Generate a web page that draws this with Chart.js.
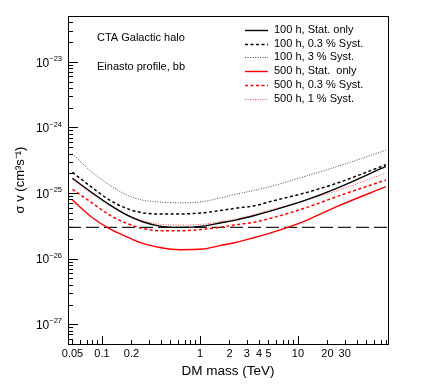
<!DOCTYPE html>
<html>
<head>
<meta charset="utf-8">
<script src="https://cdn.jsdelivr.net/npm/chart.js@4.4.1/dist/chart.umd.min.js"></script>
<style>
  html, body { margin: 0; padding: 0; background: #fff; }
  #c { display: block; }
</style>
</head>
<body>
<canvas id="c" width="424" height="385"></canvas>
<script>
// DM mass (TeV) sample points
const masses = [0.05, 0.08, 0.12, 0.18, 0.26, 0.39, 0.62, 1.07, 1.6, 2.37, 3.6, 5.18, 11.4, 24.8, 79];

// sigma v upper limits (cm^3 s^-1)
const stat100 = [1.68e-25, 1.0e-25, 6.6e-26, 4.6e-26, 3.65e-26, 3.13e-26, 3.0e-26, 3.13e-26, 3.5e-26, 3.9e-26, 4.55e-26, 5.3e-26, 7.6e-26, 1.18e-25, 2.55e-25];
const syst03_100 = [2.07e-25, 1.2e-25, 7.8e-26, 5.8e-26, 5.0e-26, 4.8e-26, 4.8e-26, 5.0e-26, 5.4e-26, 5.9e-26, 6.4e-26, 7.4e-26, 9.9e-26, 1.41e-25, 2.7e-25];
const syst3_100 = [3.94e-25, 2.05e-25, 1.32e-25, 9.3e-26, 7.8e-26, 7.3e-26, 7.1e-26, 7.4e-26, 8.4e-26, 9.65e-26, 1.1e-25, 1.25e-25, 1.77e-25, 2.52e-25, 4.5e-25];
const stat500 = [7.8e-26, 4.2e-26, 2.85e-26, 2.15e-26, 1.71e-26, 1.48e-26, 1.37e-26, 1.4e-26, 1.58e-26, 1.78e-26, 2.1e-26, 2.45e-26, 3.67e-26, 6.2e-26, 1.25e-25];
const syst03_500 = [1.14e-25, 7.0e-26, 4.6e-26, 3.44e-26, 2.89e-26, 2.66e-26, 2.66e-26, 2.8e-26, 3.0e-26, 3.3e-26, 3.6e-26, 4.1e-26, 5.8e-26, 8.8e-26, 1.58e-25];
const syst1_500 = [1.62e-25, 9.6e-26, 6.5e-26, 4.7e-26, 3.8e-26, 3.35e-26, 3.25e-26, 3.35e-26, 3.65e-26, 4.05e-26, 4.7e-26, 5.5e-26, 7.6e-26, 1.08e-25, 2.02e-25];

// thermal relic cross section
const relicMass = [0.045, 83];
const relicValue = [3e-26, 3e-26];

const seriesLabels = ["100 h, Stat. only", "100 h, 0.3 % Syst.", "100 h, 3 % Syst.",
  "500 h, Stat.  only", "500 h, 0.3 % Syst.", "500 h, 1 % Syst."];

const xTickValues = [0.05, 0.1, 0.2, 1, 2, 3, 4, 5, 10, 20, 30];
const yTickValues = [1e-27, 1e-26, 1e-25, 1e-24, 1e-23];
const yTickExponents = ["\u221227", "\u221226", "\u221225", "\u221224", "\u221223"];

const FONT = "'Liberation Sans', Arial, Helvetica, sans-serif";

const pts = (xs, ys) => xs.map((x, i) => ({ x: x, y: ys[i] }));

const line = (label, values, color, dash, width) => ({
  label: label,
  data: pts(masses, values),
  borderColor: color,
  borderDash: dash,
  borderWidth: width,
  pointRadius: 0,
  fill: false,
  cubicInterpolationMode: "monotone",
});

const datasets = [
  line(seriesLabels[0], stat100, "#000000", [], 1.4),
  line(seriesLabels[1], syst03_100, "#000000", [3, 2.5], 1.5),
  line(seriesLabels[2], syst3_100, "#333333", [1, 1.5], 0.9),
  line(seriesLabels[3], stat500, "#ff0000", [], 1.4),
  line(seriesLabels[4], syst03_500, "#ff0000", [3, 2.5], 1.5),
  line(seriesLabels[5], syst1_500, "#ff3030", [1, 1.5], 0.9),
  {
    label: "relic",
    data: pts(relicMass, relicValue),
    borderColor: "#222222",
    borderDash: [13, 5],
    borderWidth: 1.2,
    pointRadius: 0,
    fill: false,
  },
];

// frame, inward tick marks, text and legend (ROOT style)
const rootStyle = {
  id: "rootStyle",
  afterDatasetsDraw(chart) {
    const ctx = chart.ctx;
    const a = chart.chartArea;
    const xs = chart.scales.x;
    const ys = chart.scales.y;
    ctx.save();
    ctx.strokeStyle = "#000";
    ctx.lineWidth = 1;

    // y ticks
    for (let d = -28; d <= -23; d++) {
      for (let k = 1; k <= 9; k++) {
        const v = k * Math.pow(10, d);
        if (v < ys.min || v > ys.max) continue;
        const py = Math.round(ys.getPixelForValue(v)) + 0.5;
        const len = k === 1 ? 10 : 5;
        ctx.beginPath();
        ctx.moveTo(a.left, py);
        ctx.lineTo(a.left + len, py);
        ctx.stroke();
      }
    }
    // x ticks
    for (let d = -2; d <= 1; d++) {
      for (let k = 1; k <= 9; k++) {
        const v = k * Math.pow(10, d);
        if (v < xs.min || v > xs.max) continue;
        const px = Math.round(xs.getPixelForValue(v)) + 0.5;
        const len = k === 1 ? 8 : 4;
        ctx.beginPath();
        ctx.moveTo(px, a.bottom);
        ctx.lineTo(px, a.bottom - len);
        ctx.stroke();
      }
    }
    // frame
    ctx.strokeRect(Math.round(a.left) + 0.5, Math.round(a.top) + 0.5,
      Math.round(a.right - a.left), Math.round(a.bottom - a.top));

    // y tick labels: 10 with raised exponent
    ctx.fillStyle = "#000";
    ctx.textBaseline = "middle";
    ctx.textAlign = "right";
    yTickValues.forEach((v, i) => {
      const py = ys.getPixelForValue(v);
      ctx.font = "7.5px " + FONT;
      const ew = ctx.measureText(yTickExponents[i]).width;
      ctx.fillText(yTickExponents[i], 62, py - 3);
      ctx.font = "12px " + FONT;
      ctx.fillText("10", 62 - ew, py + 1.5);
    });

    // annotations
    ctx.font = "11px " + FONT;
    ctx.textAlign = "left";
    ctx.fillText("CTA Galactic halo", 97, 38);
    ctx.fillText("Einasto profile, bb", 97, 67);

    // legend
    const rowY = 30;
    const rowStep = 13.7;
    for (let i = 0; i < 6; i++) {
      const ds = chart.data.datasets[i];
      const y = rowY + i * rowStep;
      ctx.save();
      ctx.strokeStyle = ds.borderColor;
      ctx.lineWidth = ds.borderWidth;
      ctx.setLineDash(ds.borderDash);
      ctx.beginPath();
      ctx.moveTo(245, Math.round(y) + 0.5);
      ctx.lineTo(268, Math.round(y) + 0.5);
      ctx.stroke();
      ctx.restore();
      ctx.fillText(ds.label, 274, y);
    }
    ctx.restore();
  },
};

new Chart(document.getElementById("c"), {
  type: "line",
  data: { datasets: datasets },
  options: {
    responsive: false,
    animation: false,
    layout: { padding: { left: 0, right: 36, top: 16, bottom: 0 } },
    plugins: {
      legend: { display: false },
      tooltip: { enabled: false },
    },
    scales: {
      x: {
        type: "logarithmic",
        min: 0.045,
        max: 83,
        grid: { display: false, drawTicks: false },
        border: { display: false },
        afterBuildTicks: (s) => { s.ticks = xTickValues.map((v) => ({ value: v })); },
        afterFit: (s) => { s.height = 41; },
        ticks: {
          autoSkip: false,
          maxRotation: 0,
          padding: 3,
          color: "#000",
          font: { family: FONT, size: 11 },
          callback: (v) => String(v),
        },
        title: {
          display: true,
          text: "DM mass (TeV)",
          color: "#000",
          font: { family: FONT, size: 13.5 },
          padding: { top: 0, bottom: 6 },
        },
      },
      y: {
        type: "logarithmic",
        min: 5e-28,
        max: 5e-23,
        grid: { display: false, drawTicks: false },
        border: { display: false },
        afterBuildTicks: (s) => { s.ticks = yTickValues.map((v) => ({ value: v })); },
        afterFit: (s) => { s.width = 68; },
        ticks: { display: false },
        title: {
          display: true,
          text: "\u03C3 v (cm\u00B3s\u207B\u00B9)",
          color: "#000",
          font: { family: FONT, size: 13 },
          padding: { top: 13, bottom: 0 },
        },
      },
    },
  },
  plugins: [rootStyle],
});
</script>
</body>
</html>
